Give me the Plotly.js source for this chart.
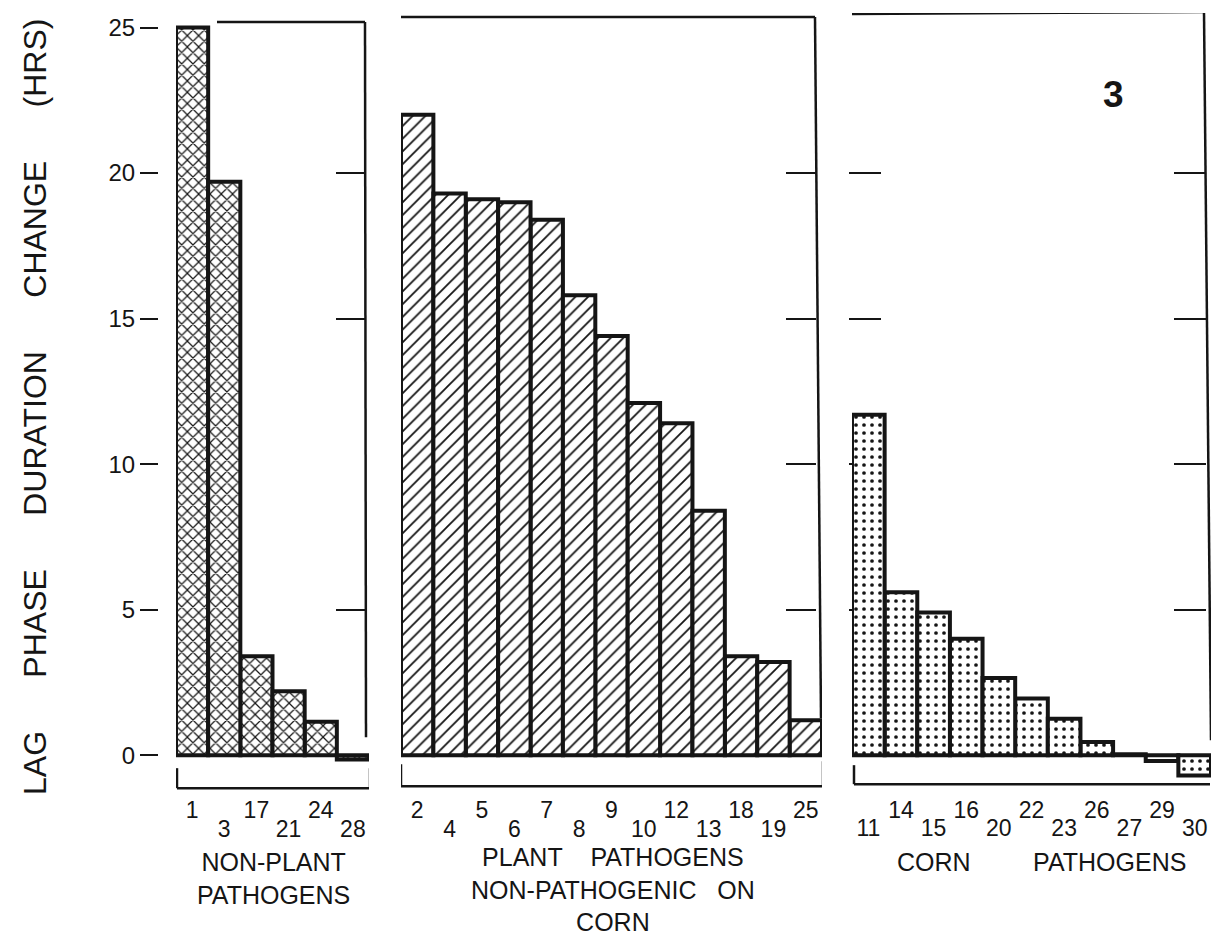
<!DOCTYPE html>
<html>
<head>
<meta charset="utf-8">
<script src="https://cdn.plot.ly/plotly-3.0.1.min.js"></script>
<style>
html,body{margin:0;padding:0;background:#fff;}
#chart{width:1214px;height:937px;}
</style>
</head>
<body>
<div id="chart"></div>
<script>
// ---------- data ----------
const nonPlantIsolates = ["1","3","17","21","24","28"];
const nonPlantLag      = [25.0, 19.7, 3.4, 2.2, 1.15, -0.15];

const plantIsolates = ["2","4","5","6","7","8","9","10","12","13","18","19","25"];
const plantLag      = [22.0, 19.3, 19.1, 19.0, 18.4, 15.8, 14.4, 12.1, 11.4, 8.4, 3.4, 3.2, 1.2];

const cornIsolates = ["11","14","15","16","20","22","23","26","27","29","30"];
const cornLag      = [11.7, 5.6, 4.9, 4.0, 2.65, 1.95, 1.25, 0.45, 0.03, -0.2, -0.7];

const yTickValues   = [0, 5, 10, 15, 20, 25];
const groupNames    = ["NON-PLANT\nPATHOGENS", "PLANT    PATHOGENS\nNON-PATHOGENIC   ON\nCORN", "CORN         PATHOGENS"];
const yTitleWords   = ["LAG", "PHASE", "DURATION", "CHANGE", "(HRS)"];
const figureNumber  = "3";

// ---------- geometry helpers (layout only) ----------
const W = 1214, H = 937;
const px = v => v / W;
const py = v => 1 - v / H;
const NB = "\u00A0";
const FONT = "Liberation Sans, Arial, sans-serif";
const INK = "#151515";

const yRange  = [-1.3, 25.5];
const yDomain = [py(793), py(13)];
const dom1 = [px(176), px(369)];
const dom2 = [px(401), px(822)];
const dom3 = [px(852), px(1211)];

function idxOf(dom, n) {
  const x0 = dom[0] * W, unit = (dom[1] - dom[0]) * W / n;
  return p => (p - x0) / unit - 0.5;
}
const i1 = idxOf(dom1, nonPlantIsolates.length);
const i2 = idxOf(dom2, plantIsolates.length);
const i3 = idxOf(dom3, cornIsolates.length);
const yv = p => (755 - p) / 29.1;

// split a panel into the two label rows (staggered tick labels)
function pick(arr, parity) { return arr.filter((v, i) => i % 2 === parity); }

function barTrace(cats, vals, parity, xa, ya, shape, size, solidity) {
  return {
    type: "bar", x: pick(cats, parity), y: pick(vals, parity), xaxis: xa, yaxis: ya,
    width: 1,
    marker: {
      color: "white",
      line: {color: INK, width: 4},
      pattern: {shape: shape, size: size, solidity: solidity, fgcolor: INK, bgcolor: "white", fillmode: "replace"}
    },
    hoverinfo: "x+y", showlegend: false
  };
}

const data = [
  barTrace(nonPlantIsolates, nonPlantLag, 0, "x",  "y",  "x", 8, 0.28),
  barTrace(nonPlantIsolates, nonPlantLag, 1, "x4", "y4", "x", 8, 0.28),
  barTrace(plantIsolates,    plantLag,    0, "x2", "y2", "/", 9, 0.2),
  barTrace(plantIsolates,    plantLag,    1, "x5", "y2", "/", 9, 0.2),
  barTrace(cornIsolates,     cornLag,     1, "x3", "y3", ".", 8, 0.17),
  barTrace(cornIsolates,     cornLag,     0, "x6", "y5", ".", 8, 0.17)
];

const tickFont = {family: FONT, size: 23, color: INK};

function catX(domain, cats, parity, anchor, over, standoff) {
  const ax = {
    domain: domain, anchor: anchor, type: "category",
    categoryorder: "array", categoryarray: cats,
    range: [-0.5, cats.length - 0.5],
    showgrid: false, zeroline: false, showline: false, ticks: "",
    tickmode: "array", tickvals: pick(cats, parity), ticktext: pick(cats, parity),
    tickfont: tickFont, ticklabelstandoff: standoff, fixedrange: true
  };
  if (over) ax.overlaying = over;
  return ax;
}
function innerY(extra) {
  return Object.assign({
    domain: yDomain, range: yRange, showgrid: false, zeroline: false, showline: false,
    ticks: "inside", ticklen: 30, tickwidth: 2, tickcolor: INK, layer: "below traces",
    tickmode: "array", tickvals: [5, 10, 15, 20], showticklabels: false, fixedrange: true
  }, extra);
}

function seg(xref, yref, x0, y0, x1, y1, w) {
  return {type: "line", xref: xref, yref: yref, x0: x0, y0: y0, x1: x1, y1: y1,
          line: {color: INK, width: w || 2.5}, layer: "below"};
}

const shapes = [
  // panel 1 frame
  seg("x", "y", i1(217), yv(22), i1(365), yv(22)),
  seg("x", "y", i1(365), yv(22), i1(366), yv(737)),
  // panel 1 bracket
  seg("x", "y", i1(177), yv(788), i1(370), yv(788)),
  seg("x", "y", i1(177), yv(788), i1(177), yv(768)),
  seg("x", "y", i1(370), yv(788), i1(370), yv(768)),
  // panel 2 frame
  seg("x2", "y2", i2(398), yv(17), i2(398), 0),
  seg("x2", "y2", i2(398), yv(17), i2(815), yv(17)),
  seg("x2", "y2", i2(815), yv(17), i2(821), yv(718)),
  // panel 2 bracket
  seg("x2", "y2", i2(401), yv(786), i2(823), yv(786)),
  seg("x2", "y2", i2(401), yv(786), i2(401), yv(764)),
  seg("x2", "y2", i2(823), yv(786), i2(823), yv(761)),
  // panel 3 frame
  seg("x3", "y3", i3(848), yv(14), i3(848), yv(386)),
  seg("x3", "y3", i3(848), yv(14), i3(1204), yv(12)),
  seg("x3", "y3", i3(1204), yv(12), i3(1211), yv(740)),
  // panel 3 bracket
  seg("x3", "y3", i3(854), yv(784), i3(1210), yv(784)),
  seg("x3", "y3", i3(854), yv(784), i3(854), yv(765))
];

const annFont = {family: FONT, size: 25, color: INK};
const toHtml = s => s.replace(/ /g, NB).replace(/\n/g, "<br>");

const annotations = [
  {text: yTitleWords.join(NB.repeat(6)), xref: "paper", yref: "paper", x: px(35), y: py(407),
   textangle: -90, showarrow: false, font: {family: FONT, size: 32, color: INK}, xanchor: "center", yanchor: "middle"},
  {text: "<b>" + figureNumber + "</b>", xref: "paper", yref: "paper", x: px(1113), y: py(94),
   showarrow: false, font: {family: FONT, size: 37, color: INK}, xanchor: "center", yanchor: "middle"},
  {text: toHtml(groupNames[0]), xref: "paper", yref: "paper", x: px(273), y: py(878),
   showarrow: false, font: annFont, xanchor: "center", yanchor: "middle", align: "center"},
  {text: toHtml(groupNames[1]), xref: "paper", yref: "paper", x: px(613), y: py(889),
   showarrow: false, font: annFont, xanchor: "center", yanchor: "middle", align: "center"},
  {text: toHtml(groupNames[2]), xref: "paper", yref: "paper", x: px(1041), y: py(862),
   showarrow: false, font: annFont, xanchor: "center", yanchor: "middle", align: "center"}
];

const layout = {
  width: W, height: H,
  margin: {l: 0, r: 0, t: 0, b: 0, pad: 0},
  paper_bgcolor: "white", plot_bgcolor: "rgba(0,0,0,0)",
  bargap: 0, showlegend: false,
  font: {family: FONT, color: INK},
  xaxis:  catX(dom1, nonPlantIsolates, 0, "y",  null, 1),
  xaxis4: catX(dom1, nonPlantIsolates, 1, "y4", "x",  20),
  xaxis2: catX(dom2, plantIsolates, 0, "y2", null, 1),
  xaxis5: catX(dom2, plantIsolates, 1, "y2", "x2", 20),
  xaxis3: catX(dom3, cornIsolates, 1, "y3", null, 1),
  xaxis6: catX(dom3, cornIsolates, 0, "y5", "x3", 19),
  yaxis: {
    domain: yDomain, range: yRange, anchor: "free", position: px(158), side: "left",
    showgrid: false, zeroline: false, showline: false,
    ticks: "outside", ticklen: 18, tickwidth: 2, tickcolor: INK,
    tickmode: "array", tickvals: yTickValues,
    tickfont: {family: FONT, size: 24, color: INK}, fixedrange: true
  },
  yaxis4: innerY({overlaying: "y", anchor: "free", position: px(366), side: "right", tickvals: [5, 15, 20]}),
  yaxis2: innerY({anchor: "free", position: px(816), side: "right"}),
  yaxis3: innerY({anchor: "free", position: px(848), side: "left", ticklen: 32}),
  yaxis5: innerY({overlaying: "y3", anchor: "free", position: px(1206), side: "right", ticklen: 32}),
  shapes: shapes,
  annotations: annotations
};

Plotly.newPlot("chart", data, layout, {displayModeBar: false, staticPlot: true});
</script>
</body>
</html>
